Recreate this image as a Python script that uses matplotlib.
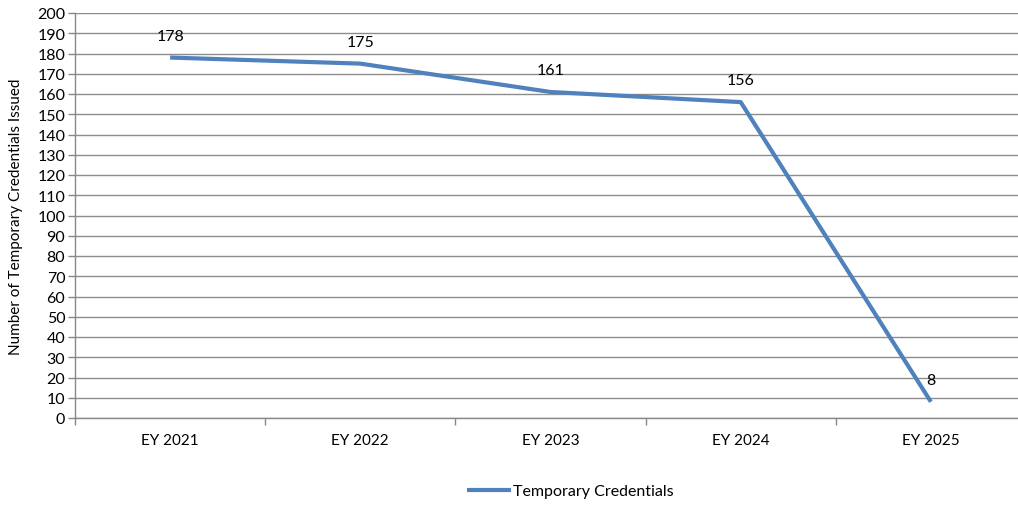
import matplotlib
matplotlib.use("Agg")
import matplotlib.pyplot as plt
import numpy as np

categories = ["EY 2021", "EY 2022", "EY 2023", "EY 2024", "EY 2025"]
values = [178, 175, 161, 156, 8]
series_name = "Temporary Credentials"

plt.rcParams['font.family'] = ['Lato', 'DejaVu Sans']

W, H = 1018, 506
fig = plt.figure(figsize=(W/100, H/100), dpi=100)
left, right, top, bottom = 75, 1026, 14, 419
ax = fig.add_axes([left/W, 1 - bottom/H, (right-left)/W, (bottom-top)/H])

x = np.arange(len(categories))
line_color = "#4F81BD"
ax.plot(x, values, color=line_color, lw=3, solid_capstyle='butt', label=series_name, zorder=3)
for xi, v in zip(x, values):
    ax.annotate(str(v), (xi, v), xytext=(0, 22), textcoords='offset pixels',
                ha='center', va='center', fontsize=11.5, color='black')

ax.set_xlim(-0.5, len(categories) - 0.5)
ax.set_ylim(0, 200)
ax.set_yticks(np.arange(0, 201, 10))
ax.set_xticks(x)
ax.set_xticklabels(categories)
ax.set_xticks(np.arange(-0.5, len(categories) - 0.5, 1), minor=True)
ax.tick_params(axis='x', which='major', length=0, pad=11, labelsize=11)
ax.tick_params(axis='x', which='minor', length=5, color='#888888', width=1)
ax.tick_params(axis='y', length=5, color='#888888', width=1, labelsize=11.5, pad=2)
ax.yaxis.grid(True, color='#8c8c8c', lw=1)
ax.set_axisbelow(True)
for s in ['top', 'right']:
    ax.spines[s].set_visible(False)
for s in ['left', 'bottom']:
    ax.spines[s].set_color('#888888')
    ax.spines[s].set_linewidth(1)

ax.set_ylabel("Number of Temporary Credentials Issued", fontsize=11)
ax.yaxis.set_label_coords(-52/(right-left), 0.5)

leg = fig.legend(loc='center', bbox_to_anchor=(570/W, 1 - 492/H), frameon=False,
                 fontsize=11.5, handlelength=2.8, handletextpad=0.1)

fig.savefig("out.png", dpi=100)
